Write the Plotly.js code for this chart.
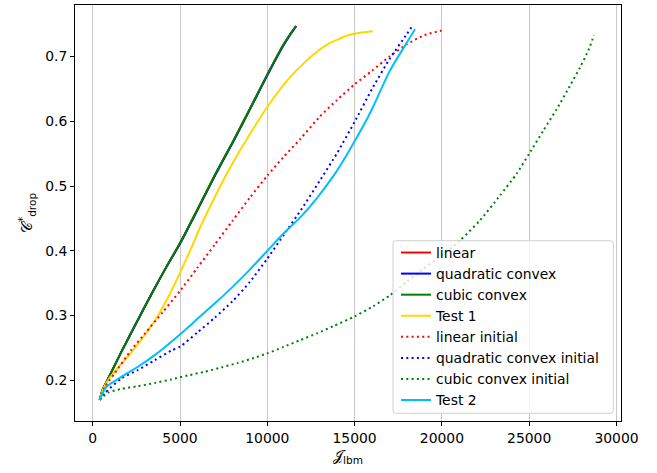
<!DOCTYPE html>
<html>
<head>
<meta charset="utf-8">
<script src="https://cdn.plot.ly/plotly-3.0.1.min.js"></script>
<style>html,body{margin:0;padding:0;background:#fff}#chart{width:657px;height:473px}</style>
</head>
<body>
<div id="chart"></div>
<script>
// ---- data ----
const seriesNames = ["linear", "quadratic convex", "cubic convex", "Test 1",
  "linear initial", "quadratic convex initial", "cubic convex initial", "Test 2"];

const linearX = [400, 560, 760, 1640, 2600, 3500, 4240, 5000, 6000, 7000, 8000, 9000, 10000, 10900, 11300, 11650];
const linearY = [0.170, 0.185, 0.196, 0.244, 0.294, 0.340, 0.376, 0.412, 0.464, 0.517, 0.567, 0.619, 0.672, 0.717, 0.734, 0.747];

const quadX = [400, 560, 760, 1640, 2600, 3500, 4240, 5000, 6000, 7000, 8000, 9000, 10000, 10900, 11300, 11650];
const quadY = [0.170, 0.185, 0.196, 0.244, 0.294, 0.340, 0.376, 0.411, 0.463, 0.516, 0.566, 0.618, 0.671, 0.716, 0.733, 0.747];

const cubicX = [400, 560, 760, 1640, 2600, 3500, 4240, 5000, 6000, 7000, 8000, 9000, 10000, 10900, 11300, 11650];
const cubicY = [0.170, 0.185, 0.196, 0.244, 0.294, 0.340, 0.376, 0.412, 0.464, 0.517, 0.567, 0.619, 0.672, 0.717, 0.734, 0.747];

const test1X = [400, 600, 1000, 2330, 3670, 4310, 5000, 5560, 6150, 7100, 8050, 9000, 10000, 11110, 12260, 13400, 14550, 15310, 16040];
const test1Y = [0.170, 0.187, 0.205, 0.247, 0.297, 0.328, 0.366, 0.399, 0.436, 0.489, 0.537, 0.580, 0.622, 0.662, 0.694, 0.718, 0.732, 0.7365, 0.739];

const linInitX = [400, 700, 1260, 2210, 2980, 4000, 5000, 6000, 7000, 8000, 9000, 10000, 10900, 11900, 13000, 14000, 15000, 16000, 17000, 18000, 19000, 19980];
const linInitY = [0.170, 0.190, 0.211, 0.247, 0.272, 0.305, 0.338, 0.374, 0.410, 0.446, 0.482, 0.516, 0.544, 0.573, 0.607, 0.633, 0.657, 0.678, 0.700, 0.719, 0.733, 0.740];

const quadInitX = [400, 690, 1640, 2590, 3550, 4500, 5000, 6000, 7000, 8000, 9000, 10000, 11000, 12000, 13000, 14000, 15000, 16000, 17000, 18000, 18360];
const quadInitY = [0.170, 0.180, 0.203, 0.216, 0.231, 0.246, 0.252, 0.274, 0.297, 0.322, 0.352, 0.388, 0.427, 0.466, 0.508, 0.551, 0.599, 0.650, 0.696, 0.735, 0.749];

const cubicInitX = [400, 880, 1640, 2590, 3550, 4500, 5460, 6410, 7370, 8320, 9280, 9970, 10920, 11870, 12830, 13780, 15020, 16070, 17030, 17980, 18940, 19890, 21040, 22180, 23330, 24280, 25000, 25810, 26580, 27340, 27910, 28400, 28710];
const cubicInitY = [0.170, 0.181, 0.187, 0.191, 0.196, 0.2015, 0.2077, 0.2133, 0.220, 0.227, 0.235, 0.2415, 0.2515, 0.262, 0.2724, 0.2837, 0.299, 0.3145, 0.3315, 0.352, 0.3726, 0.3905, 0.416, 0.447, 0.4855, 0.519, 0.550, 0.5857, 0.619, 0.655, 0.683, 0.710, 0.733];

const test2X = [400, 780, 1640, 2590, 3550, 5000, 6000, 7000, 8000, 9000, 10000, 10900, 11900, 12800, 13800, 14550, 15000, 15500, 16000, 17000, 18000, 18460];
const test2Y = [0.170, 0.190, 0.2055, 0.221, 0.239, 0.271, 0.295, 0.319, 0.344, 0.371, 0.400, 0.426, 0.452, 0.480, 0.516, 0.548, 0.569, 0.593, 0.619, 0.677, 0.722, 0.742];

const xTicks = [0, 5000, 10000, 15000, 20000, 25000, 30000];
const yTicks = [0.2, 0.3, 0.4, 0.5, 0.6, 0.7];

// ---- styles ----
const font = "DejaVu Sans, Arial, sans-serif";
const fs = 13.9;
function tr(x, y, name, color, dash) {
  return {x: x, y: y, name: name, type: "scatter", mode: "lines",
    line: {color: color, width: 2, dash: dash, shape: "spline", smoothing: 0.6}};
}
const dotted = "2px,3.3px";
const data = [
  tr(linearX, linearY, seriesNames[0], "#ff0000", "solid"),
  tr(quadX, quadY, seriesNames[1], "#0000ff", "solid"),
  tr(cubicX, cubicY, seriesNames[2], "#008000", "solid"),
  tr(test1X, test1Y, seriesNames[3], "#ffd700", "solid"),
  tr(linInitX, linInitY, seriesNames[4], "#ff0000", dotted),
  tr(quadInitX, quadInitY, seriesNames[5], "#0000ff", dotted),
  tr(cubicInitX, cubicInitY, seriesNames[6], "#008000", dotted),
  tr(test2X, test2Y, seriesNames[7], "#00bfff", "solid")
];

// legend frame (rounded box, like matplotlib's)
const plotW = 546, plotH = 416;
const bx0 = (393 - 75) / plotW, bx1 = (613.3 - 75) / plotW;
const by0 = (421 - 413.3) / plotH, by1 = (421 - 240.7) / plotH;
const rx = 3 / plotW, ry = 3 / plotH;
const framePath = `M ${bx0 + rx} ${by0} L ${bx1 - rx} ${by0} Q ${bx1} ${by0} ${bx1} ${by0 + ry} ` +
  `L ${bx1} ${by1 - ry} Q ${bx1} ${by1} ${bx1 - rx} ${by1} L ${bx0 + rx} ${by1} Q ${bx0} ${by1} ${bx0} ${by1 - ry} ` +
  `L ${bx0} ${by0 + ry} Q ${bx0} ${by0} ${bx0 + rx} ${by0} Z`;

const layout = {
  width: 657, height: 473,
  margin: {l: 75, r: 36, t: 5, b: 52, pad: 0},
  paper_bgcolor: "#ffffff", plot_bgcolor: "#ffffff",
  font: {family: font, size: fs, color: "#000"},
  showlegend: true,
  xaxis: {
    range: [-1014, 30258], tickvals: xTicks, ticktext: xTicks.map(String),
    showgrid: true, gridcolor: "#c8c8c8", gridwidth: 1,
    zeroline: false, showline: true, mirror: true, linecolor: "#000", linewidth: 1,
    ticks: "outside", ticklen: 4, tickwidth: 1, tickcolor: "#000",
    tickfont: {family: font, size: fs, color: "#000"},
    title: {text: "𝒥<sub>lbm</sub>", font: {family: font, size: 15, color: "#000"}, standoff: 5},
    automargin: false
  },
  yaxis: {
    range: [0.1373, 0.7795], tickvals: yTicks, ticktext: yTicks.map(v => v.toFixed(1)),
    showgrid: false, zeroline: false, showline: true, mirror: true, linecolor: "#000", linewidth: 1,
    ticks: "outside", ticklen: 4, tickwidth: 1, tickcolor: "#000",
    tickfont: {family: font, size: fs, color: "#000"},
    title: {text: "𝒞<sup>*</sup><sub>drop</sub>", font: {family: font, size: 15, color: "#000"}, standoff: 8},
    automargin: false
  },
  shapes: [{
    type: "path", xref: "paper", yref: "paper", path: framePath, layer: "above",
    fillcolor: "rgba(255,255,255,0.8)", line: {color: "#d0d0d0", width: 1}
  }],
  legend: {
    x: (396 - 75) / plotW, y: (421 - 237) / plotH, xanchor: "left", yanchor: "top",
    bgcolor: "rgba(0,0,0,0)", borderwidth: 0,
    font: {family: font, size: fs, color: "#000"},
    tracegroupgap: 0, itemwidth: 30
  }
};

Plotly.newPlot("chart", data, layout, {displayModeBar: false, staticPlot: true});
</script>
</body>
</html>
